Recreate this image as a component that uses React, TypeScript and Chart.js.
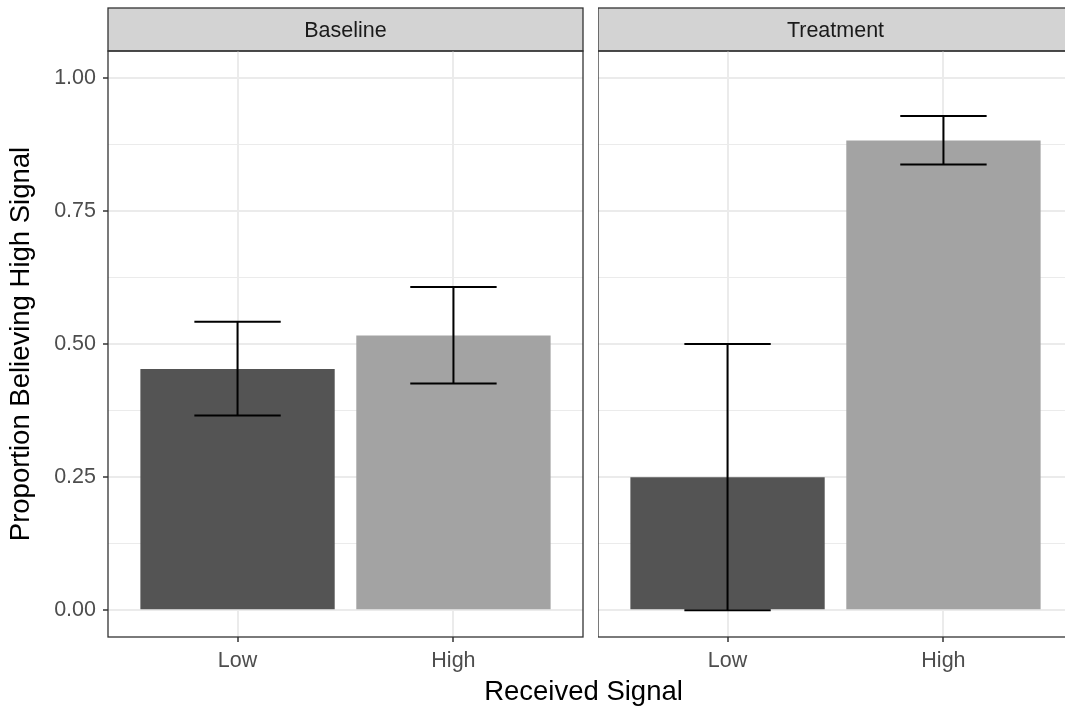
import React, { useEffect, useRef } from "react";
import { Chart, registerables } from "chart.js";

Chart.register(...registerables);
Chart.defaults.font.family = "'Liberation Sans', Arial, Helvetica, sans-serif";

// ---- data ----
const categories = ["Low", "High"];
const categoryPositions = [1, 2];
const panels = ["Baseline", "Treatment"];
const baselineMeans = [0.453, 0.516];
const baselineLower = [0.366, 0.426];
const baselineUpper = [0.542, 0.607];
const treatmentMeans = [0.25, 0.882];
const treatmentLower = [0.0, 0.837];
const treatmentUpper = [0.5, 0.928];
const barColors = ["#545454", "#A3A3A3"];
const yMajorTicks = [0, 0.25, 0.5, 0.75, 1.0];
const yMinorTicks = [0.125, 0.375, 0.625, 0.875];
const yTickLabels = ["0.00", "0.25", "0.50", "0.75", "1.00"];
const yAxisTitle = "Proportion Believing High Signal";
const xAxisTitle = "Received Signal";

const TICK_FONT = 21.5;
const TITLE_FONT = 27.5;
const STRIP_H = 43;

const isMajor = (v: number) => yMajorTicks.some((m) => Math.abs(m - v) < 1e-9);

function makeConfig(index: number): any {
  const means = index === 0 ? baselineMeans : treatmentMeans;
  const lower = index === 0 ? baselineLower : treatmentLower;
  const upper = index === 0 ? baselineUpper : treatmentUpper;
  const first = index === 0;
  const stripPad = (STRIP_H - TICK_FONT * 1.2) / 2;

  const stripPlugin = {
    id: "strip",
    beforeDraw(chart: any) {
      const { ctx, chartArea } = chart;
      const { left, right, top } = chartArea;
      ctx.save();
      ctx.fillStyle = "#D3D3D3";
      ctx.fillRect(left, top - STRIP_H, right - left, STRIP_H);
      ctx.strokeStyle = "#333333";
      ctx.lineWidth = 1.3;
      ctx.strokeRect(left, top - STRIP_H, right - left, STRIP_H);
      ctx.restore();
    },
  };

  const errorBarPlugin = {
    id: "errorBars",
    afterDatasetsDraw(chart: any) {
      const { ctx } = chart;
      const xs = chart.scales.x;
      const ys = chart.scales.y;
      ctx.save();
      ctx.strokeStyle = "#000000";
      ctx.lineWidth = 2;
      categoryPositions.forEach((xv, i) => {
        const x = xs.getPixelForValue(xv);
        const half = xs.getPixelForValue(xv + 0.2) - x;
        const yl = ys.getPixelForValue(lower[i]);
        const yu = ys.getPixelForValue(upper[i]);
        ctx.beginPath();
        ctx.moveTo(x, yl);
        ctx.lineTo(x, yu);
        ctx.moveTo(x - half, yl);
        ctx.lineTo(x + half, yl);
        ctx.moveTo(x - half, yu);
        ctx.lineTo(x + half, yu);
        ctx.stroke();
      });
      ctx.restore();
    },
  };

  const borderPlugin = {
    id: "panelBorder",
    afterDraw(chart: any) {
      const { ctx, chartArea } = chart;
      const { left, right, top, bottom } = chartArea;
      ctx.save();
      ctx.strokeStyle = "#333333";
      ctx.lineWidth = 1.3;
      ctx.strokeRect(left, top, right - left, bottom - top);
      ctx.restore();
    },
  };

  return {
    type: "bar",
    data: {
      datasets: [
        {
          data: categoryPositions.map((x, i) => ({ x, y: means[i] })),
          backgroundColor: barColors,
          borderWidth: 0,
          barPercentage: 0.9,
          categoryPercentage: 1.0,
        },
      ],
    },
    options: {
      responsive: false,
      animation: false,
      layout: { padding: { top: 8, right: 7, left: 0, bottom: 0 } },
      plugins: {
        legend: { display: false },
        tooltip: { enabled: false },
        title: {
          display: true,
          text: panels[index],
          fullSize: false,
          color: "#1A1A1A",
          font: { size: TICK_FONT, weight: "normal" },
          padding: { top: stripPad + 2, bottom: stripPad - 2 },
        },
      },
      scales: {
        x: {
          type: "linear",
          min: 0.4,
          max: 2.6,
          offset: false,
          afterBuildTicks: (s: any) => {
            s.ticks = categoryPositions.map((v) => ({ value: v }));
          },
          afterFit: (s: any) => {
            s.height = 69;
          },
          ticks: {
            autoSkip: false,
            maxRotation: 0,
            color: "#4D4D4D",
            font: { size: TICK_FONT },
            padding: 6,
            callback: (v: number) => {
              const k = categoryPositions.indexOf(v);
              return k >= 0 ? categories[k] : "";
            },
          },
          grid: {
            offset: false,
            color: "#EBEBEB",
            lineWidth: 2,
            tickColor: "#333333",
            tickLength: 5,
            tickWidth: 1.5,
          },
          border: { display: false },
        },
        y: {
          type: "linear",
          min: -0.05,
          max: 1.05,
          afterBuildTicks: (s: any) => {
            s.ticks = [...yMajorTicks, ...yMinorTicks].sort((a, b) => a - b).map((v) => ({ value: v }));
          },
          afterFit: (s: any) => {
            s.width = first ? 108 : 0;
          },
          ticks: {
            display: first,
            autoSkip: false,
            color: "#4D4D4D",
            font: { size: TICK_FONT },
            padding: 7,
            callback: (v: number) => {
              const k = yMajorTicks.findIndex((m) => Math.abs(m - v) < 1e-9);
              return k >= 0 ? yTickLabels[k] : "";
            },
          },
          grid: {
            color: "#EBEBEB",
            lineWidth: (c: any) => (c.tick && isMajor(c.tick.value) ? 2 : 1),
            drawTicks: first,
            tickColor: (c: any) => (c.tick && isMajor(c.tick.value) ? "#333333" : "rgba(0,0,0,0)"),
            tickLength: 5,
            tickWidth: 1.5,
          },
          border: { display: false },
          title: {
            display: first,
            text: yAxisTitle,
            color: "#000000",
            font: { size: TITLE_FONT },
            padding: { top: 5, bottom: 0 },
          },
        },
      },
    },
    plugins: [stripPlugin, errorBarPlugin, borderPlugin],
  };
}

function Panel({ index, left, width }: { index: number; left: number; width: number }) {
  const ref = useRef<HTMLCanvasElement | null>(null);
  useEffect(() => {
    if (!ref.current) return;
    const chart = new Chart(ref.current, makeConfig(index));
    return () => chart.destroy();
  }, [index]);
  return (
    <canvas
      ref={ref}
      width={width}
      height={706}
      style={{ position: "absolute", left, top: 0, width, height: 706, display: "block" }}
    />
  );
}

export default function App() {
  return (
    <div
      style={{
        position: "absolute",
        left: 0,
        top: 0,
        width: 1065,
        height: 706,
        overflow: "hidden",
        background: "#FFFFFF",
      }}
    >
      <Panel index={0} left={0} width={590} />
      <Panel index={1} left={598} width={482} />
      <div
        style={{
          position: "absolute",
          left: 583.5,
          top: 673.5,
          transform: "translateX(-50%)",
          fontFamily: "'Liberation Sans', Arial, Helvetica, sans-serif",
          fontSize: TITLE_FONT,
          lineHeight: "33px",
          color: "#000000",
          whiteSpace: "nowrap",
        }}
      >
        {xAxisTitle}
      </div>
    </div>
  );
}
